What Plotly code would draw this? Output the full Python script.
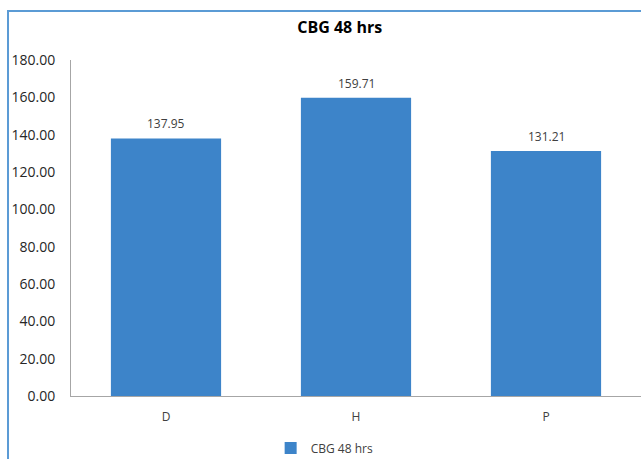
import plotly.graph_objects as go

# Mean capillary blood glucose at 48 hours, per group
categories = ["D", "H", "P"]
cbg_48 = [137.95, 159.71, 131.21]
series_name = "CBG 48 hrs"
y_ticks = [0, 20, 40, 60, 80, 100, 120, 140, 160, 180]

FONT = "Open Sans"
BAR_BLUE = "#3D84C9"
FRAME_BLUE = "#5B9BD5"
AXIS_GRAY = "#A6A6A6"

fig = go.Figure()
fig.add_trace(go.Bar(
    x=categories,
    y=cbg_48,
    name=series_name,
    marker=dict(color=BAR_BLUE, line=dict(width=0)),
    showlegend=True,
))

# value labels sitting a little above each bar
for cat, val in zip(categories, cbg_48):
    fig.add_annotation(
        x=cat, y=val, text=f"{val:.2f}",
        showarrow=False, yanchor="bottom", yshift=4,
        font=dict(family=FONT, size=12, color="#404040"),
    )

fig.update_layout(
    width=641,
    height=459,
    margin=dict(l=71, r=0, t=60, b=63, autoexpand=False),
    paper_bgcolor="white",
    plot_bgcolor="white",
    font=dict(family=FONT, size=12, color="#404040"),
    bargap=0.42,
    title=dict(
        text="<b>CBG 48 hrs</b>",
        font=dict(family=FONT, size=16, color="black"),
        x=0.53, xref="container", xanchor="center",
        y=0.941, yref="container", yanchor="middle",
    ),
    showlegend=True,
    legend=dict(
        orientation="h",
        x=0.445, xanchor="center",
        y=-0.155, yanchor="middle",
        font=dict(family=FONT, size=12, color="#404040"),
        itemwidth=30,
    ),
    xaxis=dict(
        showgrid=False,
        showline=True,
        linecolor=AXIS_GRAY,
        linewidth=1,
        ticks="",
        ticklabelstandoff=10,
        tickfont=dict(family=FONT, size=12, color="#404040"),
        automargin=False,
    ),
    yaxis=dict(
        range=[0, 180],
        tickvals=y_ticks,
        tickformat=".2f",
        showgrid=False,
        zeroline=False,
        showline=True,
        linecolor=AXIS_GRAY,
        linewidth=1,
        ticks="",
        ticklabelstandoff=12,
        tickfont=dict(family=FONT, size=14, color="#262626"),
        automargin=False,
    ),
    shapes=[dict(
        type="rect", xref="paper", yref="paper",
        x0=-0.1105, x1=1.05, y0=-0.3, y1=1.1458,
        line=dict(color=FRAME_BLUE, width=2),
        fillcolor="rgba(0,0,0,0)",
        layer="above",
    )],
)

fig.write_html("out.html")
